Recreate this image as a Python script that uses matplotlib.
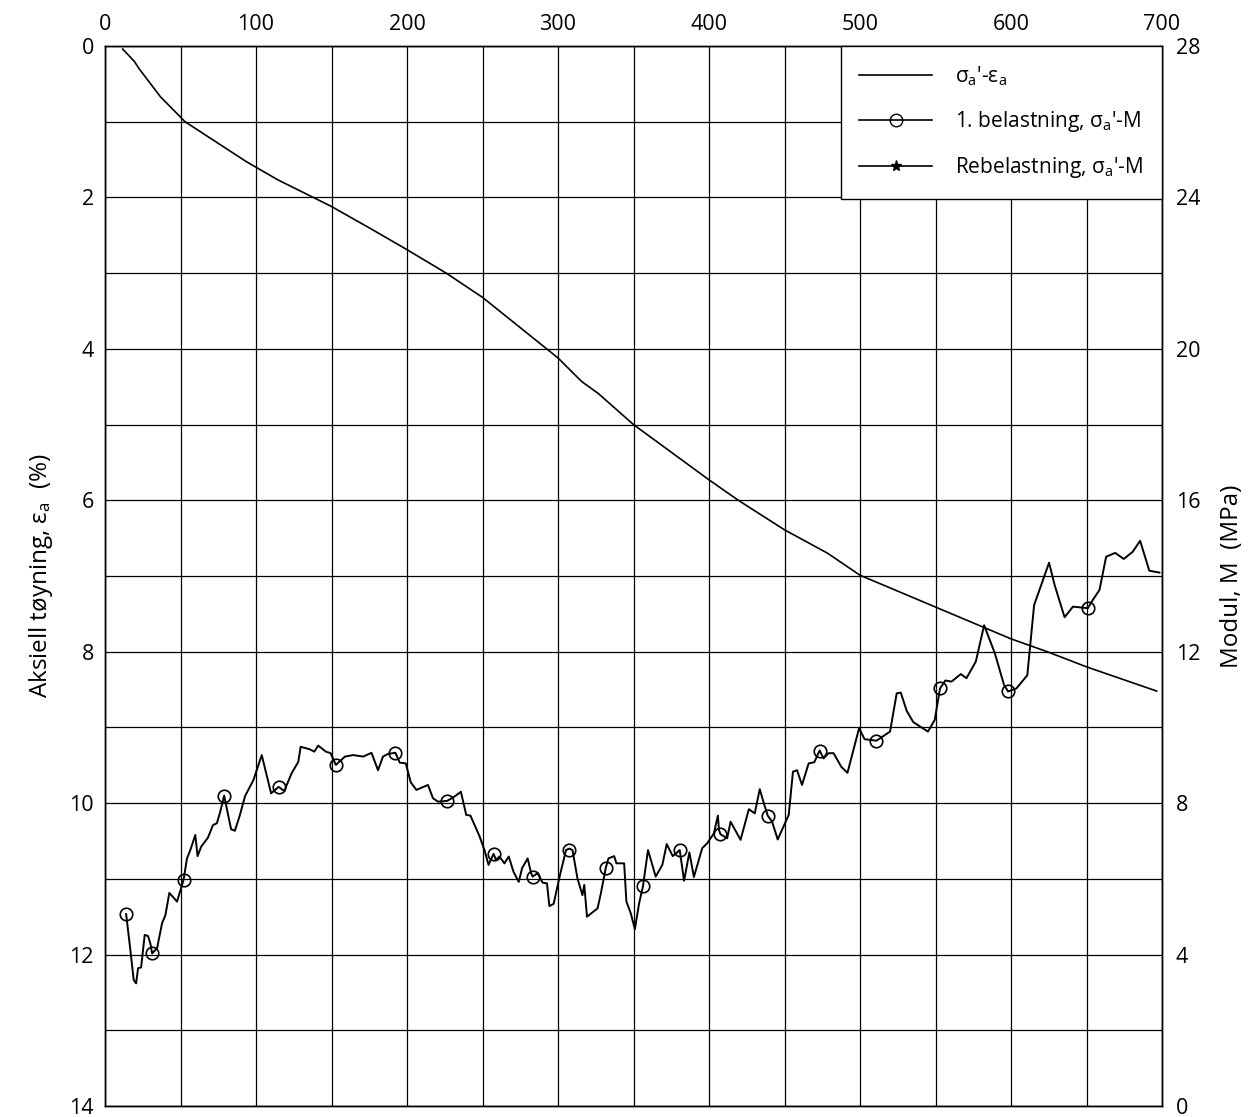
import numpy as np
import matplotlib.pyplot as plt
from matplotlib.lines import Line2D

plt.rcParams['font.family'] = ['Open Sans', 'DejaVu Sans']
plt.rcParams['mathtext.fontset'] = 'custom'
plt.rcParams['mathtext.rm'] = 'Open Sans'
plt.rcParams['mathtext.it'] = 'Open Sans'

# sigma_a' - eps_a curve (left axis, %)
strain_x = [11.7, 19.3, 22.6, 36.7, 53, 68.4, 93.8, 114.7, 150, 176.6, 200, 226, 250,
            292.5, 300, 315.6, 326.7, 350, 400, 419.4, 450, 478.6, 500, 550, 600,
            624, 650, 696.5]
strain_e = [0.04, 0.2, 0.3, 0.67, 1.0, 1.2, 1.53, 1.77, 2.12, 2.42, 2.69, 3.0, 3.32,
            4.0, 4.12, 4.43, 4.59, 5.0, 5.73, 6.0, 6.39, 6.70, 6.99, 7.41, 7.83,
            8.0, 8.2, 8.52]

# sigma_a' - M, 1. belastning (right axis, MPa)
mod_x = [14, 16.8, 19, 20.6, 21.9, 23.9, 26.3, 28.5, 30, 31.2, 34.5, 37.8, 40, 42.6, 47.7,
         52, 54.3, 56.5, 59.8, 61.3, 63.7, 68.2, 71.5, 74.1, 76.3, 78.9, 83.5, 86, 89,
         92.8, 98.3, 103.8, 110, 115, 118.7, 123.6, 128, 129.6, 135.7, 138.6, 141.2,
         146.3, 149.4, 152.9, 158.9, 164.3, 171, 176.5, 180.8, 184.1, 187.4, 192.3,
         195.2, 199.2, 202.5, 206.2, 213.9, 217.2, 220.5, 226.7, 232, 235.7, 239.2, 242,
         248, 251.3, 254, 257.3, 259, 261.2, 264.5, 267.4, 270.5, 274, 276.2, 279.9,
         282.2, 283.2, 286.5, 289.8, 292.7, 294.3, 297.1, 301.3, 305.3, 307.5, 309.6,
         312.9, 316.2, 317.4, 319.2, 326.2, 328.4, 331.7, 333.4, 337.2, 338.7, 343.8,
         345.3, 348.2, 350.9, 353.7, 356.3, 359.6, 364.7, 369.1, 372, 376, 380.6, 383.5,
         387, 390, 395.5, 398.8, 403.2, 405.9, 406.6, 407.6, 412, 414.3, 420.9, 426.4,
         430.3, 433.6, 436.3, 438.9, 441.8, 445.5, 448.3, 452.8, 455.6, 458.3, 461.6,
         466, 469.7, 473.3, 475.9, 479.2, 482.5, 487.6, 491.7, 499.4, 503, 510.9, 519.9,
         524.3, 527, 531, 535.3, 545, 549.5, 553, 556.5, 560.6, 566.8, 570.5, 576.7,
         582.2, 589.3, 595.4, 598.1, 603.6, 607.3, 610.8, 615.3, 625.2, 628.9, 635.5,
         641, 650.9, 654.2, 658.6, 663, 669, 674.7, 680.6, 685.5, 691.6, 698.3]
mod_m = [5.07, 4.12, 3.33, 3.24, 3.64, 3.66, 4.52, 4.49, 4.30, 4.03, 4.17, 4.83, 5.04, 5.63, 5.40,
         5.97, 6.54, 6.76, 7.16, 6.60, 6.85, 7.09, 7.42, 7.47, 7.77, 8.20, 7.31, 7.27, 7.64,
         8.19, 8.61, 9.27, 8.26, 8.43, 8.32, 8.79, 9.09, 9.49, 9.42, 9.36, 9.52,
         9.36, 9.32, 9.01, 9.23, 9.27, 9.23, 9.33, 8.87, 9.23, 9.30, 9.33,
         9.07, 9.05, 8.55, 8.35, 8.48, 8.13, 8.04, 8.06, 8.19, 8.30, 7.69, 7.67,
         7.13, 6.76, 6.37, 6.66, 6.50, 6.59, 6.41, 6.59, 6.19, 5.92, 6.28, 6.54,
         6.15, 6.06, 6.15, 5.90, 5.88, 5.28, 5.34, 6.10, 6.76, 6.80, 6.76,
         6.01, 5.57, 5.84, 5.00, 5.22, 5.62, 6.30, 6.54, 6.60, 6.41, 6.41,
         5.40, 5.09, 4.67, 5.35, 5.81, 6.76, 6.06, 6.37, 6.92, 6.60, 6.76, 5.95,
         6.70, 6.05, 6.81, 6.94, 7.20, 7.67, 7.29, 7.18, 7.07, 7.51, 7.03, 7.84,
         7.73, 8.37, 8.00, 7.67, 7.51, 7.04, 7.29, 7.69, 8.83, 8.87, 8.48,
         9.05, 9.08, 9.39, 9.18, 9.32, 9.32, 8.96, 8.80, 9.98, 9.69, 9.65, 9.89,
         10.90, 10.92, 10.43, 10.14, 9.89, 10.20, 11.03, 11.24, 11.21, 11.41, 11.30, 11.74,
         12.70, 11.96, 11.12, 10.95, 11.03, 11.21, 11.38, 13.23, 14.35, 13.76, 12.91,
         13.19, 13.15, 13.37, 13.63, 14.51, 14.61, 14.45, 14.64, 14.93, 14.14, 14.09]

# circle markers on the 1. belastning curve
mark_x = [14, 31.2, 52, 78.9, 115, 152.9, 192.3, 226.7, 257.3, 283.2, 307.5, 331.7, 356.3,
          380.6, 407.6, 438.9, 473.3, 510.9, 553, 598.1, 650.9]
mark_m = [5.07, 4.03, 5.97, 8.20, 8.43, 9.01, 9.33, 8.06, 6.66, 6.06, 6.76, 6.30, 5.81,
          6.76, 7.18, 7.67, 9.39, 9.65, 11.03, 10.95, 13.15]

fs = 15.5
fig = plt.figure(figsize=(12.6, 11.17), dpi=100)
ax = fig.add_axes([105/1260, 11/1117, 1057/1260, 1060/1117])
ax2 = ax.twinx()

ax.plot(strain_x, strain_e, color='black', lw=1.2)
ax2.plot(mod_x, mod_m, color='black', lw=1.4)
ax2.plot(mark_x, mark_m, linestyle='none', marker='o', ms=9, mfc='none', mec='black', mew=1.2)

ax.set_xlim(0, 700)
ax.set_ylim(14, 0)
ax2.set_ylim(0, 28)

ax.xaxis.tick_top()
ax.set_xticks(np.arange(0, 701, 100))
ax.set_xticks(np.arange(0, 701, 50), minor=True)
ax.set_yticks(np.arange(0, 15, 2))
ax.set_yticks(np.arange(0, 15, 1), minor=True)
ax2.set_yticks(np.arange(0, 29, 4))
ax.grid(True, which='both', color='black', lw=0.9)
ax.tick_params(which='both', length=0, labelsize=fs, pad=8)
ax2.tick_params(length=0, labelsize=fs, pad=10)
for a in (ax, ax2):
    for s in a.spines.values():
        s.set_linewidth(1.0)

ax.set_ylabel("Aksiell tøyning, ε$_{\\mathrm{a}}$  (%)", fontsize=fs + 2, labelpad=10)
ax2.set_ylabel("Modul, M  (MPa)", fontsize=fs + 2, labelpad=14)

handles = [
    Line2D([], [], color='black', lw=1.2),
    Line2D([], [], color='black', lw=1.2, marker='o', ms=9, mfc='none', mec='black'),
    Line2D([], [], color='black', lw=1.2, marker='*', ms=8),
]
labels = ["σ$_{\\mathrm{a}}$'-ε$_{\\mathrm{a}}$",
          "1. belastning, σ$_{\\mathrm{a}}$'-M",
          "Rebelastning, σ$_{\\mathrm{a}}$'-M"]
leg = ax2.legend(handles, labels, loc='upper right', bbox_to_anchor=(1, 1), borderaxespad=0,
                 fontsize=15, fancybox=False, framealpha=1, edgecolor='black',
                 handlelength=3.5, handletextpad=1.1, labelspacing=1.0,
                 borderpad=0.9)
leg.get_frame().set_linewidth(1.0)

fig.savefig('out.png', dpi=100)
